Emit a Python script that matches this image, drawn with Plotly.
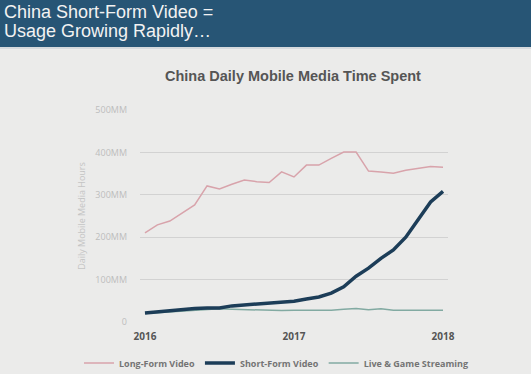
import plotly.graph_objects as go

months = list(range(25))  # Jan 2016 .. Jan 2018
long_form = [210, 229, 238, 257, 276, 321, 314, 325, 335, 331, 329, 354, 342,
             370, 370, 386, 401, 401, 356, 354, 351, 358, 363, 367, 365]
short_form = [21, 24, 27, 30, 32, 33, 33, 38, 40, 43, 44, 46, 49,
              54, 59, 68, 83, 108, 127, 150, 170, 200, 243, 283, 308]
live_game = [20, 22, 24, 26, 28, 30, 31, 30, 29, 28, 27, 27, 28,
             28, 27, 28, 30, 32, 29, 31, 28, 28, 28, 28, 28]
x_tick_vals = [0, 12, 24]
x_tick_text = ["<b>2016</b>", "<b>2017</b>", "<b>2018</b>"]
y_tick_vals = [0, 100, 200, 300, 400, 500]
y_tick_text = ["0", "100MM", "200MM", "300MM", "400MM", "500MM"]

W, H = 531, 374
L, R, T, B = 140, 83, 110, 52
pw, ph = W - L - R, H - T - B

def px(x):
    return (x - L) / pw

def py(y):
    return (H - B - y) / ph

fig = go.Figure()
fig.add_trace(go.Scatter(x=months, y=long_form, mode="lines", name="Long-Form Video",
                         line=dict(color="#d8a3ab", width=1.5), legendrank=1))
fig.add_trace(go.Scatter(x=months, y=live_game, mode="lines", name="Live & Game Streaming",
                         line=dict(color="#82aaa2", width=1.5), legendrank=3))
fig.add_trace(go.Scatter(x=months, y=short_form, mode="lines", name="Short-Form Video",
                         line=dict(color="#1c3d58", width=3.5), legendrank=2))

fig.update_layout(
    width=W, height=H,
    margin=dict(l=L, r=R, t=T, b=B, autoexpand=False),
    paper_bgcolor="#ebebea", plot_bgcolor="#ebebea",
    showlegend=True,
    legend=dict(orientation="h", x=px(79), xanchor="left", y=py(363), yanchor="middle",
                font=dict(family="Open Sans", size=9, color="#747474", weight="bold"),
                itemwidth=30, bgcolor="rgba(0,0,0,0)", tracegroupgap=0),
    xaxis=dict(range=[-0.4, 24.4], tickvals=x_tick_vals, ticktext=x_tick_text,
               showgrid=False, zeroline=False, showline=False, ticklabelstandoff=7,
               automargin=False,
               tickfont=dict(family="Open Sans", size=10, color="#555555")),
    yaxis=dict(range=[0, 500], tickvals=y_tick_vals, ticktext=y_tick_text,
               showgrid=True, gridcolor="#d2d2d2", gridwidth=1, zeroline=False,
               showline=False, ticklabelstandoff=12, automargin=False,
               tickfont=dict(family="Open Sans", size=9, color="#bdbdbd"),
               title=dict(text="Daily Mobile Media Hours", standoff=8,
                          font=dict(family="Open Sans", size=9, color="#c4c4c4"))),
    font=dict(family="Open Sans"),
)

fig.add_shape(type="rect", xref="paper", yref="paper",
              x0=px(-2), x1=px(W + 2), y0=py(47), y1=py(-2),
              fillcolor="#275575", line=dict(width=0), layer="below")
fig.add_shape(type="line", xref="paper", yref="paper",
              x0=px(-2), x1=px(W + 2), y0=py(48), y1=py(48),
              line=dict(color="#d6dadd", width=2))
fig.add_annotation(xref="paper", yref="paper", x=px(2), y=py(11.5), xanchor="left", yanchor="middle",
                   text="China Short-Form Video =", showarrow=False,
                   font=dict(family="Liberation Sans", size=18, color="#f2f2f2"))
fig.add_annotation(xref="paper", yref="paper", x=px(2), y=py(31), xanchor="left", yanchor="middle",
                   text="Usage Growing Rapidly…", showarrow=False,
                   font=dict(family="Liberation Sans", size=18, color="#f2f2f2"))
fig.add_annotation(xref="paper", yref="paper", x=px(293), y=py(75.5), xanchor="center", yanchor="middle",
                   text="<b>China Daily Mobile Media Time Spent</b>", showarrow=False,
                   font=dict(family="Liberation Sans", size=14.5, color="#555555"))

fig.write_html("out.html", config={"displayModeBar": False},
               post_script="document.body.style.margin='0';document.body.style.overflow='hidden';")
